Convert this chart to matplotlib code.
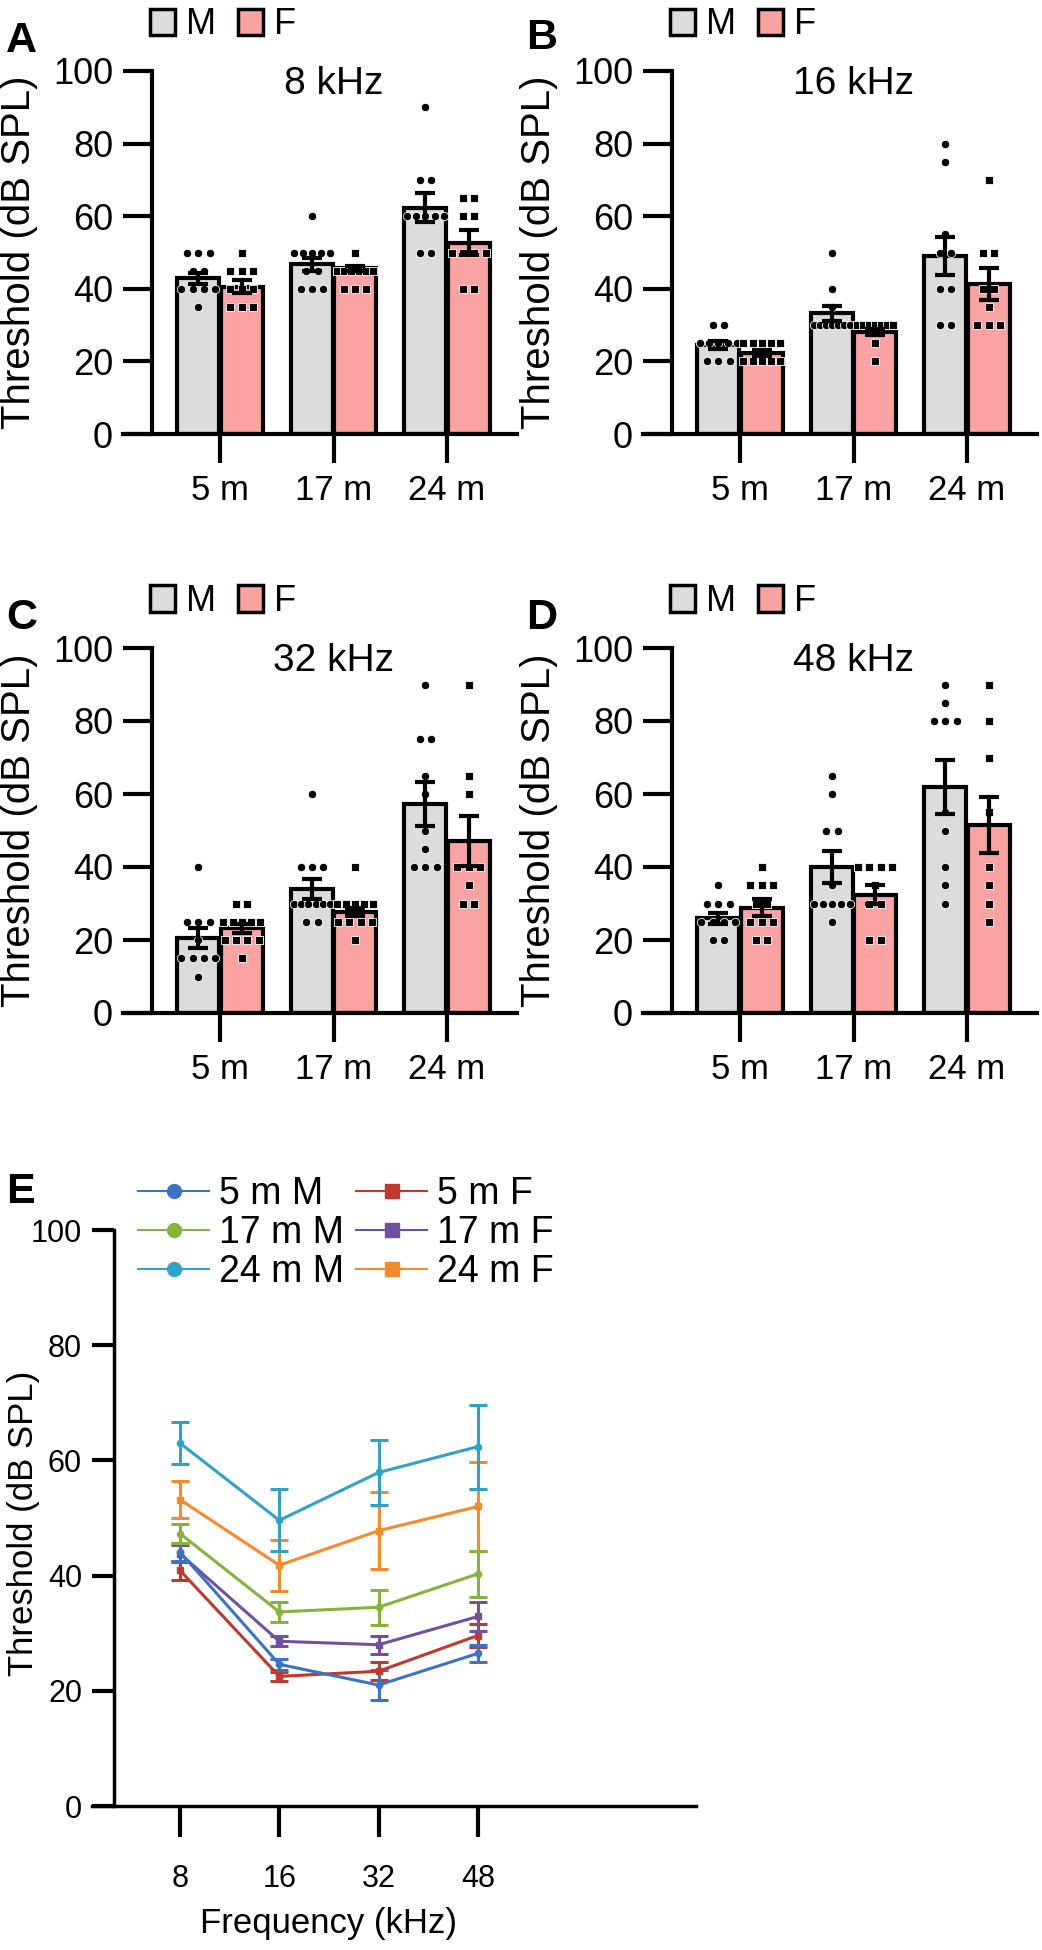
import numpy as np
import matplotlib
matplotlib.use('Agg')
import matplotlib.pyplot as plt
from matplotlib import font_manager
from matplotlib.patches import Patch
from matplotlib.lines import Line2D

installed = {f.name for f in font_manager.fontManager.ttflist}
narrow = 'Liberation Sans Narrow' if 'Liberation Sans Narrow' in installed else 'Liberation Sans'
plt.rcParams['font.family'] = ['Liberation Sans', 'DejaVu Sans']

ages = ['5 m', '17 m', '24 m']
freq_labels = ['8', '16', '32', '48']
panel_titles = ['8 kHz', '16 kHz', '32 kHz', '48 kHz']

# bar heights (mean) and SEM, one row per frequency, columns = 5 m, 17 m, 24 m
bar_mean_m = [[42.9, 46.7, 62.3], [24.5, 33.2, 49.0], [20.5, 33.9, 57.3], [26.0, 40.0, 61.9]]
bar_mean_f = [[40.6, 45.6, 52.7], [22.3, 28.2, 41.2], [23.2, 27.6, 47.2], [28.9, 32.4, 51.6]]
bar_sem_m = [[1.5, 1.7, 4.0], [1.0, 2.0, 5.2], [2.7, 2.7, 6.0], [1.5, 4.4, 7.3]]
bar_sem_f = [[1.8, 0.6, 3.5], [0.8, 0.8, 4.4], [1.2, 1.1, 6.9], [2.3, 2.6, 7.7]]

# individual animals
pts_m8 = [[50, 50, 50, 45, 45, 40, 40, 40, 40, 35],
          [60, 50, 50, 50, 50, 50, 45, 45, 40, 40, 40],
          [90, 70, 70, 60, 60, 60, 60, 60, 50, 50]]
pts_f8 = [[50, 45, 45, 45, 40, 40, 40, 35, 35, 35],
          [50, 45, 45, 45, 45, 45, 45, 40, 40, 40],
          [65, 65, 60, 60, 50, 50, 50, 50, 40, 40]]
pts_m16 = [[30, 30, 25, 25, 25, 25, 25, 20, 20, 20],
           [50, 40, 35, 30, 30, 30, 30, 30, 30, 30],
           [80, 75, 55, 50, 50, 40, 40, 30, 30]]
pts_f16 = [[25, 25, 25, 25, 25, 20, 20, 20, 20, 20],
           [30, 30, 30, 30, 30, 30, 30, 25, 20],
           [70, 50, 50, 40, 40, 35, 30, 30, 30]]
pts_m32 = [[40, 25, 25, 25, 20, 15, 15, 15, 15, 10],
           [60, 40, 40, 40, 30, 30, 30, 30, 30, 30, 25, 25],
           [90, 75, 75, 65, 60, 50, 45, 40, 40, 40]]
pts_f32 = [[30, 30, 25, 25, 25, 25, 25, 20, 20, 20, 20, 15],
           [40, 30, 30, 30, 30, 30, 25, 25, 25, 25, 20],
           [90, 65, 60, 40, 40, 40, 35, 30, 30]]
pts_m48 = [[35, 30, 30, 30, 25, 25, 25, 25, 20, 20],
           [65, 60, 50, 50, 35, 30, 30, 30, 30, 30, 25],
           [90, 85, 80, 80, 80, 55, 50, 40, 35, 30]]
pts_f48 = [[40, 35, 35, 35, 30, 30, 25, 25, 25, 20, 20],
           [40, 40, 40, 40, 35, 30, 30, 20, 20],
           [90, 80, 70, 55, 40, 35, 30, 25]]

# panel E: threshold vs frequency
e_labels_m = ['5 m M', '17 m M', '24 m M']
e_labels_f = ['5 m F', '17 m F', '24 m F']
e_mean_m = [[44.1, 24.6, 21.0, 26.5], [47.3, 33.7, 34.5, 40.3], [63.0, 49.6, 57.9, 62.4]]
e_sem_m = [[1.6, 1.0, 2.6, 1.5], [1.7, 1.75, 3.0, 4.0], [3.7, 5.4, 5.7, 7.3]]
e_mean_f = [[40.9, 22.5, 23.4, 29.6], [43.8, 28.6, 28.0, 32.9], [53.2, 41.8, 47.8, 52.0]]
e_sem_f = [[1.6, 0.8, 1.6, 2.0], [1.5, 0.9, 1.6, 2.6], [3.2, 4.4, 6.7, 7.7]]
e_col_m = ['#3a74c4', '#86b33a', '#31a2c7']
e_col_f = ['#c0392f', '#7050a0', '#f88a2a']

gray = '#dcdcdc'
pink = '#fba3a3'


def swarm(vals, center, spacing=0.1, maxw=0.32):
    vals = np.asarray(vals, dtype=float)
    xs = np.empty(len(vals))
    for v in np.unique(vals):
        idx = np.where(vals == v)[0]
        n = len(idx)
        step = spacing if n < 2 else min(spacing, maxw / (n - 1))
        xs[idx] = center + (np.arange(n) - (n - 1) / 2) * step
    return xs


def bar_panel(ax, title, mm, mf, sm, sf, pm, pf):
    x = np.arange(3)
    off = 0.19
    ax.bar(x - off, mm, 0.37, color=gray, edgecolor='black', linewidth=3, zorder=1)
    ax.bar(x + off, mf, 0.37, color=pink, edgecolor='black', linewidth=3, zorder=1)
    for i in range(3):
        ax.scatter(swarm(pm[i], x[i] - off), pm[i], s=36, marker='o', color='black',
                   edgecolors='white', linewidths=0.6, zorder=2)
        ax.scatter(swarm(pf[i], x[i] + off), pf[i], s=32, marker='s', color='black',
                   edgecolors='white', linewidths=0.6, zorder=2)
    ax.errorbar(x - off, mm, yerr=sm, fmt='none', ecolor='black', elinewidth=3,
                capsize=7, capthick=3, zorder=3)
    ax.errorbar(x + off, mf, yerr=sf, fmt='none', ecolor='black', elinewidth=3,
                capsize=7, capthick=3, zorder=3)
    ax.set_xlim(-0.855, 2.617)
    ax.set_ylim(0, 100)
    ax.spines['left'].set_position(('data', -0.6))
    ax.spines['top'].set_visible(False)
    ax.spines['right'].set_visible(False)
    for s in ['left', 'bottom']:
        ax.spines[s].set_linewidth(3)
    ax.set_yticks(np.arange(0, 101, 20))
    ax.set_xticks(x)
    ax.set_xticklabels(ages, fontsize=25, family=[narrow, 'DejaVu Sans'])
    ax.tick_params(axis='y', length=21, width=3, labelsize=26, pad=7)
    ax.tick_params(axis='x', length=21, width=3, pad=8)
    ax.set_ylabel('Threshold (dB SPL)', fontsize=29)
    ax.yaxis.set_label_coords(-0.215, 0.5)
    ax.text(1, 0.965, title, transform=ax.get_xaxis_transform(), ha='center', va='center',
            fontsize=28)
    handles = [Patch(facecolor=gray, edgecolor='black', linewidth=2.5),
               Patch(facecolor=pink, edgecolor='black', linewidth=2.5)]
    ax.legend(handles, ['M', 'F'], loc='center left', bbox_to_anchor=(0.069, 1.127),
              ncol=2, frameon=False, fontsize=26, handlelength=0.7, handleheight=0.75,
              handletextpad=0.3, columnspacing=0.6, borderpad=0, borderaxespad=0)


fig = plt.figure(figsize=(10.42, 19.5), dpi=100)
W, H = 1042.0, 1950.0
rects = [(123, 434, 363), (643, 434, 363), (123, 1013, 365), (643, 1013, 365)]
pts_m = [pts_m8, pts_m16, pts_m32, pts_m48]
pts_f = [pts_f8, pts_f16, pts_f32, pts_f48]
for k, (left, base, hgt) in enumerate(rects):
    ax = fig.add_axes([left / W, 1 - base / H, 394 / W, hgt / H])
    bar_panel(ax, panel_titles[k], bar_mean_m[k], bar_mean_f[k], bar_sem_m[k], bar_sem_f[k],
              pts_m[k], pts_f[k])

for letter, px, py in [('A', 6, 41), ('B', 526, 38), ('C', 6, 618), ('D', 526, 618), ('E', 6, 1192)]:
    fig.text(px / W, 1 - py / H, letter, fontsize=31, fontweight='bold', ha='left', va='center')

# panel E
axe = fig.add_axes([92 / W, 1 - 1806 / H, 604 / W, 576 / H])
fx = np.arange(len(freq_labels))
for i in range(3):
    axe.errorbar(fx, e_mean_f[i], yerr=e_sem_f[i], color=e_col_f[i], marker='s', ms=4,
                 lw=2.2, elinewidth=2.2, capsize=6.5, capthick=2.2, label=e_labels_f[i])
for i in range(3):
    axe.errorbar(fx, e_mean_m[i], yerr=e_sem_m[i], color=e_col_m[i], marker='o', ms=4.5,
                 lw=2.2, elinewidth=2.2, capsize=6.5, capthick=2.2, label=e_labels_m[i])
xmin, xmax = -0.886, 5.196
axe.set_xlim(xmin, xmax)
axe.set_ylim(0, 100)
axe.spines['left'].set_position(('data', -0.665))
axe.spines['top'].set_visible(False)
axe.spines['right'].set_visible(False)
for s in ['left', 'bottom']:
    axe.spines[s].set_linewidth(2.5)
axe.set_yticks(np.arange(0, 101, 20))
axe.set_xticks(fx)
axe.set_xticklabels(freq_labels)
for lab in axe.get_xticklabels() + axe.get_yticklabels():
    lab.set_family([narrow, 'DejaVu Sans'])
    lab.set_fontsize(22)
axe.tick_params(axis='y', length=16, width=3, pad=7)
axe.tick_params(axis='x', length=22, width=3, pad=20)
axe.set_ylabel('Threshold (dB SPL)', fontsize=25)
axe.yaxis.set_label_coords(-0.086, 0.49)
axe.set_xlabel('Frequency (kHz)', fontsize=25, family=[narrow, 'DejaVu Sans'])
axe.xaxis.set_label_coords((1.5 - xmin) / (xmax - xmin), -0.175)

hm = [Line2D([], [], color=c, marker='o', ms=10, lw=1.5) for c in e_col_m]
hf = [Line2D([], [], color=c, marker='s', ms=10, lw=1.5) for c in e_col_f]
leg_kw = dict(loc='center left', frameon=False, handlelength=1.9,
              handletextpad=0.25, labelspacing=0.08, borderpad=0, borderaxespad=0,
              prop={'family': [narrow, 'DejaVu Sans'], 'size': 27})
leg1 = axe.legend(hm, e_labels_m, bbox_to_anchor=((138 - 92) / 604, 0.995), **leg_kw)
axe.add_artist(leg1)
axe.legend(hf, e_labels_f, bbox_to_anchor=((356 - 92) / 604, 0.995), **leg_kw)

fig.savefig('out.png', dpi=100)
